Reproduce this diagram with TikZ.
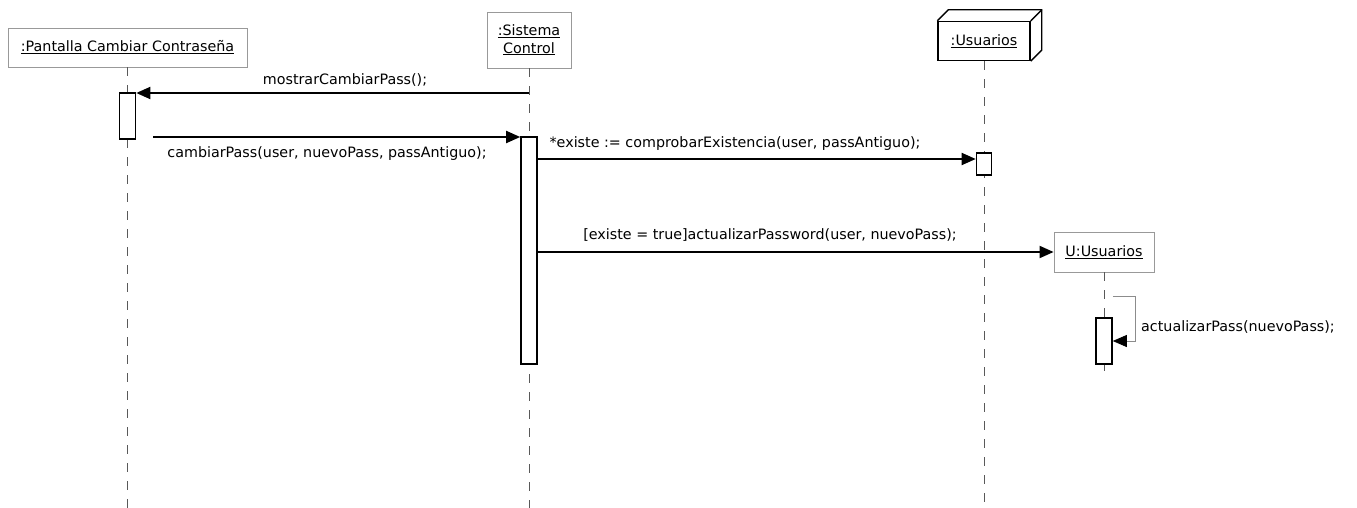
\documentclass[tikz,border=0pt]{standalone}
\usepackage{fontspec}
\setmainfont{DejaVu Sans}
\usetikzlibrary{arrows.meta, positioning, calc}

\begin{document}
\begin{tikzpicture}[x=1pt, y=-1pt,
    obj/.style={rectangle, draw=black!40, line width=0.8pt, fill=white,
                inner sep=0pt, align=center, font=\fontsize{14.3}{17.5}\selectfont},
    cube/.style={rectangle, draw=black, line width=1.4pt, fill=white,
                 inner sep=0pt, font=\fontsize{14.3}{17.5}\selectfont},
    life/.style={draw=black!65, line width=0.9pt, dash pattern=on 9pt off 9pt},
    act/.style={rectangle, draw=black, line width=1.6pt, fill=white,
                minimum width=16pt, inner sep=0pt},
    msg/.style={line width=1.8pt, -{Triangle[length=14pt, width=12pt]}},
    selfmsg/.style={draw=black!45, line width=0.8pt,
                    -{Triangle[length=14pt, width=12pt, color=black]}},
    lbl/.style={font=\fontsize{14.3}{17.5}\selectfont, inner sep=0pt}
  ]
  \useasboundingbox (0,0) rectangle (1357,508);
  % Objects
  \node[obj, minimum width=239pt, minimum height=39pt] (pantalla) at (127.5,47.5)
    {\underline{:Pantalla Cambiar Contraseña}};
  \node[obj, minimum width=84pt, minimum height=56pt] (sistema) at (529,40)
    {\underline{:Sistema}\\\underline{Control}};
  \node[cube, minimum width=92pt, minimum height=39pt] (usuarios) at (984,41)
    {\underline{:Usuarios}};
  \draw[line width=1.4pt] (usuarios.north west) -- ++(11,-11)
    -- ($(usuarios.north east)+(11,-11)$) -- ($(usuarios.south east)+(11,-11)$)
    -- (usuarios.south east);
  \draw[line width=1.4pt] (usuarios.north east) -- ++(11,-11);
  \node[obj, minimum width=100pt, minimum height=40pt] (nuevo) at (1104,252)
    {\underline{U:Usuarios}};
  % Lifelines
  \coordinate (fin1) at (127.5,508);
  \coordinate (fin2) at (529,508);
  \coordinate (fin3) at (984,508);
  \coordinate (fin4) at (1104,375);
  \draw[life] (pantalla.south) -- (fin1);
  \draw[life] (sistema.south) -- (fin2);
  \draw[life] (usuarios.south) -- (fin3);
  \draw[life] (nuevo.south) -- (fin4);
  % Activations
  \node[act, minimum height=46pt] (act1) at (127.5,116) {};
  \node[act, minimum height=227pt] (act2) at (529,250.5) {};
  \node[act, minimum width=15pt, minimum height=22pt] (act3) at (984,164) {};
  \node[act, minimum height=46pt] (act4) at (1104,341) {};
  % Messages
  \coordinate (m1) at (529,93);
  \draw[msg] (m1) -- (act1.east |- m1);
  \node[lbl] (l1) at (345,80) {mostrarCambiarPass();};
  \coordinate (m2) at (153,137);
  \draw[msg] (m2) -- (act2.west |- m2);
  \node[lbl] (l2) at (327,154) {cambiarPass(user, nuevoPass, passAntiguo);};
  \coordinate (m3) at (984,159);
  \draw[msg] (act2.east |- m3) -- (act3.west |- m3);
  \node[lbl] (l3) at (735,144) {*existe := comprobarExistencia(user, passAntiguo);};
  \draw[msg] (act2.east |- nuevo.west) -- (nuevo.west);
  \node[lbl] (l4) at (770,235) {[existe = true]actualizarPassword(user, nuevoPass);};
  \coordinate (m5) at (1104,296);
  \draw[selfmsg] (act4.east |- m5) -- ++(23,0) |- (act4.east);
  \node[lbl, anchor=west] (l5) at (1141,327) {actualizarPass(nuevoPass);};
\end{tikzpicture}
\end{document}
